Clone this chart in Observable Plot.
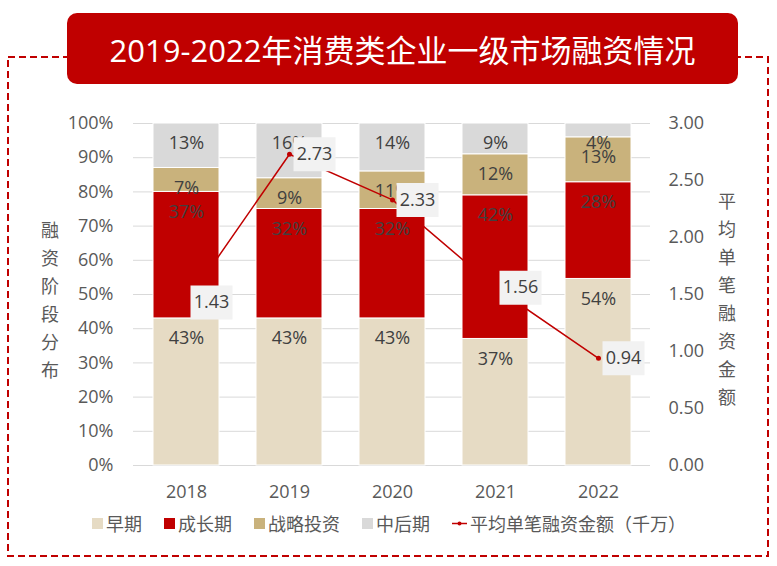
<!DOCTYPE html>
<html><head><meta charset="utf-8">
<script src="https://cdn.jsdelivr.net/npm/d3@7"></script>
<script src="https://cdn.jsdelivr.net/npm/@observablehq/plot@0.6"></script>
<style>
body{margin:0;background:#fff;font-family:"Open Sans","Noto Sans CJK SC",sans-serif;}
#wrap{position:relative;width:777px;height:566px;overflow:hidden;background:#fff;}
#border{position:absolute;left:0;top:0;}
#titlebox{position:absolute;left:67px;top:13px;width:671px;height:71px;border-radius:10px;background:#c00000;color:#fff;font-size:31px;display:flex;align-items:center;justify-content:center;font-family:"Open Sans","Noto Sans CJK SC",sans-serif;}
#chart{position:absolute;left:0;top:100px;}
.vtitle{position:absolute;width:18px;font-size:18px;line-height:28px;color:#595959;word-break:break-all;text-align:center;font-family:"Noto Sans CJK SC",sans-serif;}
#legend{position:absolute;left:92px;top:510px;display:flex;gap:22px;font-size:18px;color:#595959;align-items:center;font-family:"Noto Sans CJK SC",sans-serif;}
#legend .item{display:flex;align-items:center;gap:3px;}
#legend .sw{width:11px;height:11px;display:inline-block;}
</style></head><body><div id="wrap">
<svg id="border" width="777" height="566"><rect x="8" y="57" width="760" height="499" fill="none" stroke="#c00000" stroke-width="2" stroke-dasharray="7 4"/></svg>
<div id="chart"></div>
<div class="vtitle" style="left:41px;top:215px;">融资阶段分布</div>
<div class="vtitle" style="left:718px;top:186px;">平均单笔融资金额</div>
<div id="legend"></div>
<div id="titlebox"></div>
</div>
<script>
const title = "2019-2022年消费类企业一级市场融资情况";
const years = ["2018","2019","2020","2021","2022"];
const stages = ["早期","成长期","战略投资","中后期"];
const early = [43,43,43,37,54];
const growth = [37,32,32,42,28];
const strategic = [7,9,11,12,13];
const late = [13,16,14,9,4];
const avgAmount = [1.43,2.73,2.33,1.56,0.94];
const lineName = "平均单笔融资金额（千万）";
const leftTicks = [0,10,20,30,40,50,60,70,80,90,100];
const rightTicks = [0,0.5,1,1.5,2,2.5,3];
const rightMax = 3;
const stageColors = ["#e6dbc4","#c00000","#c9b27c","#d9d9d9"];
const lineColor = "#c00000";

document.getElementById("titlebox").textContent = title;

const seriesByStage = [early, growth, strategic, late];
const rows = [];
years.forEach((y, i) => stages.forEach((s, j) => rows.push({year: y, stage: s, value: seriesByStage[j][i]})));
const lineData = years.map((y, i) => ({year: y, v: avgAmount[i]}));

const boxSymbol = {draw(ctx) { ctx.rect(-21, -17, 42, 34); }};

const chart = Plot.plot({
  width: 777, height: 410,
  marginTop: 23, marginBottom: 45, marginLeft: 133, marginRight: 127,
  style: {fontFamily: '"Open Sans","Noto Sans CJK SC",sans-serif', fontSize: "18px", color: "#595959", background: "transparent"},
  x: {domain: years, paddingInner: 0.36, paddingOuter: 0.18, label: null},
  y: {domain: [0, 1], label: null},
  color: {domain: stages, range: stageColors},
  marks: [
    Plot.gridY(leftTicks.map(d => d / 100), {stroke: "#d9d9d9", strokeOpacity: 1}),
    Plot.barY(rows, Plot.stackY({x: "year", y: "value", z: "stage", fill: "stage", offset: "normalize", stroke: "#fff", strokeWidth: 1})),
    Plot.text(rows, Plot.stackY2({x: "year", y: "value", z: "stage", offset: "normalize", text: d => d.value + "%", dy: 20, fill: "#404040", fontSize: 18})),
    Plot.line(lineData, {x: "year", y: d => d.v / rightMax, stroke: lineColor, strokeWidth: 1.5}),
    Plot.dot(lineData, {x: "year", y: d => d.v / rightMax, r: 2.5, fill: lineColor}),
    Plot.dot(lineData, {x: "year", y: d => d.v / rightMax, symbol: boxSymbol, r: 5, fill: "#f2f2f2", dx: 25}),
    Plot.text(lineData, {x: "year", y: d => d.v / rightMax, text: d => d.v.toFixed(2), dx: 25, fill: "#404040", fontSize: 18}),
    Plot.axisY(leftTicks.map(d => d / 100), {anchor: "left", tickSize: 0, tickPadding: 20, tickFormat: d => Math.round(d * 100) + "%", label: null}),
    Plot.axisY(rightTicks.map(d => d / rightMax), {anchor: "right", tickSize: 0, tickPadding: 18, tickFormat: d => (d * rightMax).toFixed(2), label: null}),
    Plot.axisX({tickSize: 0, tickPadding: 20, label: null})
  ]
});
document.getElementById("chart").appendChild(chart);

const legend = document.getElementById("legend");
stages.forEach((s, i) => {
  const it = document.createElement("div"); it.className = "item";
  it.innerHTML = `<span class="sw" style="background:${stageColors[i]}"></span><span>${s}</span>`;
  legend.appendChild(it);
});
const li = document.createElement("div"); li.className = "item";
li.innerHTML = `<svg width="15" height="11"><line x1="0" y1="5.5" x2="15" y2="5.5" stroke="${lineColor}" stroke-width="1.5"/><circle cx="7.5" cy="5.5" r="2" fill="${lineColor}"/></svg><span>${lineName}</span>`;
legend.appendChild(li);
</script>
</body></html>
